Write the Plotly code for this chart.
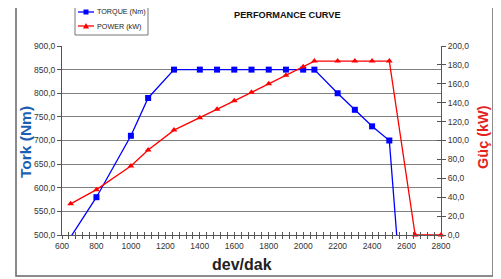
import plotly.graph_objects as go

# ---- data ----
rpm_torque = [640, 800, 1000, 1100, 1250, 1400, 1500, 1600, 1700, 1800, 1900, 2000, 2065, 2200, 2300, 2400, 2500, 2650]
torque_nm = [490, 580, 710, 790, 850, 850, 850, 850, 850, 850, 850, 850, 850, 800, 765, 730, 700, 0]
rpm_power = [650, 800, 1000, 1100, 1250, 1400, 1500, 1600, 1700, 1800, 1900, 2000, 2065, 2200, 2300, 2400, 2500, 2650, 2800]
power_kw = [33, 48, 73, 90, 111, 124, 133, 142, 151, 160, 169, 178, 184, 184, 184, 184, 184, 0, 0]
legend_names = ["TORQUE (Nm)", "POWER (kW)"]

OFF = 8  # page body margin
W, H = 501 - OFF, 279 - OFF
# plot area in window px
L, R, T, B = 62, 441, 46, 235


def px(x):
    return (x - L) / (R - L)


def py(y):
    return (B - y) / (B - T)


BLUE = "#0000ff"
RED = "#ff0000"
AXC = "#555555"
FONT = "Arial, Liberation Sans, sans-serif"

fig = go.Figure()
fig.add_trace(go.Scatter(x=rpm_torque, y=torque_nm, mode="lines+markers", name=legend_names[0],
                         line=dict(color=BLUE, width=1.3),
                         marker=dict(symbol="square", size=6, color=BLUE),
                         yaxis="y", showlegend=False))
fig.add_trace(go.Scatter(x=rpm_power, y=power_kw, mode="lines+markers", name=legend_names[1],
                         line=dict(color=RED, width=1.3),
                         marker=dict(symbol="triangle-up", size=6, color=RED),
                         yaxis="y2", cliponaxis=False, showlegend=False))
# helper trace so overlay tick axes are drawn
fig.add_trace(go.Scatter(x=[None], y=[None], xaxis="x2", yaxis="y3", showlegend=False, hoverinfo="skip"))

tickfont = dict(family=FONT, size=8.5, color="#333333")

fig.update_layout(
    width=W, height=H,
    margin=dict(l=L - OFF, r=W - (R - OFF), t=T - OFF, b=H - (B - OFF), pad=0),
    paper_bgcolor="white", plot_bgcolor="white",
    separators=",.",
    showlegend=False,
    xaxis=dict(range=[600, 2800], dtick=200, tick0=600, tickformat="d",
               showgrid=False, zeroline=False, showline=True, linecolor=AXC, linewidth=1,
               ticks="outside", ticklen=3, tickcolor=AXC,
               minor=dict(dtick=40, tick0=600, ticks="outside", ticklen=3, tickcolor=AXC, showgrid=False),
               tickfont=tickfont),
    xaxis2=dict(range=[600, 2800], overlaying="x", anchor="y", side="bottom",
                dtick=40, tick0=600, ticks="inside", ticklen=3, tickcolor=AXC,
                showticklabels=False, showgrid=False, zeroline=False, showline=False),
    yaxis=dict(range=[500, 900], dtick=50, tickformat=".1f",
               showgrid=True, gridcolor="#808080", gridwidth=1, zeroline=False,
               showline=True, linecolor=AXC, linewidth=1,
               ticks="outside", ticklen=4, tickcolor=AXC, tickfont=tickfont),
    yaxis2=dict(range=[0, 200], dtick=20, tickformat=".1f", overlaying="y", side="right", anchor="x",
                showgrid=False, zeroline=False, showline=True, linecolor=AXC, linewidth=1,
                ticks="outside", ticklen=4, tickcolor=AXC, tickfont=tickfont),
    yaxis3=dict(range=[0, 200], dtick=20, overlaying="y", side="right", anchor="x",
                showgrid=False, zeroline=False, showline=False,
                ticks="inside", ticklen=4, tickcolor=AXC, showticklabels=False),
)

shapes = []
# outer frame
shapes.append(dict(type="rect", xref="paper", yref="paper",
                   x0=px(16), x1=px(493), y0=py(276), y1=py(-5),
                   line=dict(color="#666666", width=1.5), fillcolor="rgba(0,0,0,0)", layer="above"))
# legend box
shapes.append(dict(type="rect", xref="paper", yref="paper",
                   x0=px(75), x1=px(148), y0=py(35), y1=py(5),
                   line=dict(color="#777777", width=1), fillcolor="white"))
# legend lines
for yy, col in [(12, BLUE), (26, RED)]:
    shapes.append(dict(type="line", xref="paper", yref="paper",
                       x0=px(78), x1=px(94), y0=py(yy), y1=py(yy),
                       line=dict(color=col, width=1.3)))
# legend square
shapes.append(dict(type="rect", xref="paper", yref="paper",
                   x0=px(83.5), x1=px(88.5), y0=py(14.5), y1=py(9.5),
                   line=dict(color=BLUE, width=0), fillcolor=BLUE))
# legend triangle
tx = [px(83), px(89), px(86)]
ty = [py(28.5), py(28.5), py(23)]
shapes.append(dict(type="path", xref="paper", yref="paper",
                   path=f"M {tx[0]} {ty[0]} L {tx[1]} {ty[1]} L {tx[2]} {ty[2]} Z",
                   line=dict(color=RED, width=0), fillcolor=RED))
fig.update_layout(shapes=shapes)

ann = []
for yy, txt in [(12, legend_names[0]), (26, legend_names[1])]:
    ann.append(dict(xref="paper", yref="paper", x=px(94.5), y=py(yy), xanchor="left", yanchor="middle",
                    text=txt, showarrow=False, font=dict(family=FONT, size=7.2, color="#222222")))
ann.append(dict(xref="paper", yref="paper", x=px(287), y=py(15), xanchor="center", yanchor="middle",
                text="<b>PERFORMANCE CURVE</b>", showarrow=False,
                font=dict(family=FONT, size=9.2, color="#111111")))
ann.append(dict(xref="paper", yref="paper", x=px(25), y=py(142), xanchor="center", yanchor="middle",
                text="<b>Tork (Nm)</b>", textangle=-90, showarrow=False,
                font=dict(family=FONT, size=15.5, color="#1a5fb4")))
ann.append(dict(xref="paper", yref="paper", x=px(483), y=py(137), xanchor="center", yanchor="middle",
                text="<b>Güç (kW)</b>", textangle=-90, showarrow=False,
                font=dict(family=FONT, size=14.5, color="#e3211c")))
ann.append(dict(xref="paper", yref="paper", x=px(242), y=py(264), xanchor="center", yanchor="middle",
                text="<b>dev/dak</b>", showarrow=False,
                font=dict(family=FONT, size=16, color="#222222")))
fig.update_layout(annotations=ann)

fig.write_html("out.html")
